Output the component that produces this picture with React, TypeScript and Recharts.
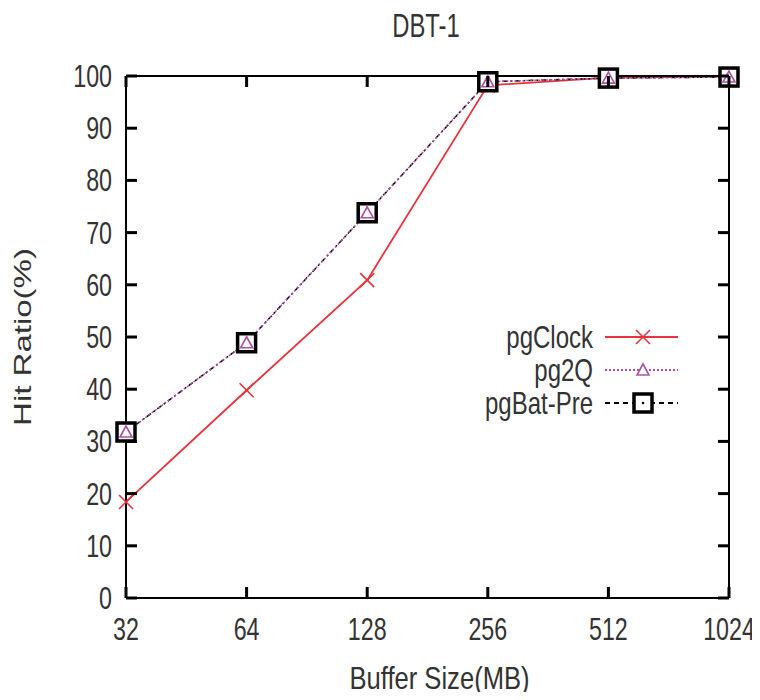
import { LineChart, Line, XAxis, YAxis, Legend } from 'recharts';

const sizes = ['32', '64', '128', '256', '512', '1024'];
const pgClock = [18.4, 39.8, 60.9, 98.2, 99.7, 99.9];
const pg2Q = [31.8, 48.9, 73.8, 98.9, 99.6, 99.8];
const pgBatPre = [31.8, 48.9, 73.8, 98.9, 99.6, 99.8];
const yTicks = [0, 10, 20, 30, 40, 50, 60, 70, 80, 90, 100];

const data = sizes.map((size, i) => ({
  size,
  pgClock: pgClock[i],
  pg2Q: pg2Q[i],
  pgBatPre: pgBatPre[i],
}));

const FONT = 'Liberation Sans, Arial, sans-serif';
const TXT = '#333';
const RED = '#e8333d';
const MAG = '#b050a4';
const SQ = 'black';
const TICK = 11;
const SX = 0.75;

const BottomTick = ({ x, y, payload }: any) => (
  <g>
    <line x1={x} y1={y} x2={x} y2={y - TICK} stroke="black" strokeWidth={3} />
    <g transform={`translate(${x},${y + 42}) scale(${SX},1)`}>
      <text textAnchor="middle" fontSize={31} fontFamily={FONT} fill={TXT}>{payload.value}</text>
    </g>
  </g>
);

const LeftTick = ({ x, y, payload }: any) => (
  <g>
    <line x1={x} y1={y} x2={x + TICK} y2={y} stroke="black" strokeWidth={3} />
    <g transform={`translate(${x - 14},${y + 11}) scale(${SX},1)`}>
      <text textAnchor="end" fontSize={31} fontFamily={FONT} fill={TXT}>{payload.value}</text>
    </g>
  </g>
);

const TopTick = ({ x, y }: any) => (
  <line x1={x} y1={y} x2={x} y2={y + TICK} stroke="black" strokeWidth={3} />
);

const RightTick = ({ x, y }: any) => (
  <line x1={x} y1={y} x2={x - TICK} y2={y} stroke="black" strokeWidth={3} />
);

const Cross = ({ cx, cy, r = 7 }: any) => (
  <g>
    <line x1={cx - r} y1={cy - r} x2={cx + r} y2={cy + r} stroke={RED} strokeWidth={1.6} />
    <line x1={cx - r} y1={cy + r} x2={cx + r} y2={cy - r} stroke={RED} strokeWidth={1.6} />
  </g>
);

const Tri = ({ cx, cy }: any) => (
  <path d={`M${cx},${cy - 6} L${cx + 6},${cy + 5} L${cx - 6},${cy + 5} Z`} fill="white" stroke={MAG} strokeWidth={1.6} />
);

const Square = ({ cx, cy }: any) => (
  <g>
    <rect x={cx - 9} y={cy - 9} width={18} height={18} fill="white" stroke={SQ} strokeWidth={3.5} />
    <circle cx={cx} cy={cy} r={1.3} fill={SQ} />
  </g>
);

const LegendBox = () => {
  const rows = [
    { name: 'pgClock', y: 27, stroke: RED, dash: undefined, mark: <Cross cx={213} cy={27} /> },
    { name: 'pg2Q', y: 60, stroke: MAG, dash: '2 2', mark: <Tri cx={213} cy={60} /> },
    { name: 'pgBat-Pre', y: 93, stroke: SQ, dash: '5 4', mark: <Square cx={213} cy={93} /> },
  ];
  return (
    <svg width={270} height={120}>
      {rows.map((r) => (
        <g key={r.name}>
          <g transform={`translate(163,${r.y + 11}) scale(${SX},1)`}>
            <text textAnchor="end" fontSize={32} fontFamily={FONT} fill={TXT}>{r.name}</text>
          </g>
          <line x1={175} y1={r.y} x2={248} y2={r.y} stroke={r.stroke} strokeWidth={1.8} strokeDasharray={r.dash} />
          {r.mark}
        </g>
      ))}
    </svg>
  );
};

const YLabel = ({ viewBox }: any) => {
  const cy = viewBox.y + viewBox.height / 2;
  return (
    <g transform={`translate(15,${cy}) scale(${SX},1) rotate(-90)`}>
      <text textAnchor="middle" dy={11} fontSize={33} fontFamily={FONT} fill={TXT}>Hit Ratio(%)</text>
    </g>
  );
};

const XLabel = ({ viewBox }: any) => {
  const cx = viewBox.x + viewBox.width / 2 + 12;
  return (
    <g transform={`translate(${cx},${viewBox.y + 91}) scale(0.8,1)`}>
      <text textAnchor="middle" fontSize={32} fontFamily={FONT} fill={TXT}>Buffer Size(MB)</text>
    </g>
  );
};

export default function App() {
  return (
    <div style={{ position: 'relative', width: 744, height: 684, background: 'white' }}>
      <style>{'.recharts-surface, .recharts-wrapper { overflow: visible !important; }'}</style>
      <div
        style={{
          position: 'absolute',
          left: 418,
          top: 17,
          transform: 'translate(-50%,-50%) scaleX(0.7)',
          fontFamily: FONT,
          fontSize: 34,
          lineHeight: 1,
          color: TXT,
          whiteSpace: 'nowrap',
        }}
      >
        DBT-1
      </div>
      <LineChart width={744} height={684} data={data} margin={{ top: 67, right: 22, bottom: 0, left: 0 }}>
        <XAxis
          dataKey="size"
          xAxisId="bottom"
          height={94}
          padding={{ left: 0, right: 0 }}
          axisLine={{ stroke: 'black', strokeWidth: 2 }}
          tickLine={false}
          tickSize={0}
          tickMargin={0}
          tick={<BottomTick />}
          interval={0}
          label={XLabel}
        />
        <XAxis
          dataKey="size"
          xAxisId="top"
          orientation="top"
          height={1}
          padding={{ left: 0, right: 0 }}
          axisLine={{ stroke: 'black', strokeWidth: 2 }}
          tickLine={false}
          tickSize={0}
          tickMargin={0}
          tick={<TopTick />}
          interval={0}
        />
        <YAxis
          yAxisId="left"
          width={118}
          domain={[0, 100]}
          ticks={yTicks}
          interval={0}
          axisLine={{ stroke: 'black', strokeWidth: 2 }}
          tickLine={false}
          tickSize={0}
          tickMargin={0}
          tick={<LeftTick />}
          label={YLabel}
        />
        <YAxis
          yAxisId="right"
          orientation="right"
          width={1}
          domain={[0, 100]}
          ticks={yTicks}
          interval={0}
          axisLine={{ stroke: 'black', strokeWidth: 2 }}
          tickLine={false}
          tickSize={0}
          tickMargin={0}
          tick={<RightTick />}
        />
        <Line
          xAxisId="bottom"
          yAxisId="left"
          dataKey="pgClock"
          stroke={RED}
          strokeWidth={1.8}
          dot={(p: any) => <Cross key={`c${p.index}`} cx={p.cx} cy={p.cy} />}
          isAnimationActive={false}
        />
        <Line
          xAxisId="top"
          yAxisId="right"
          dataKey="pgBatPre"
          stroke={SQ}
          strokeWidth={1.5}
          strokeDasharray="5 3 2 3"
          dot={(p: any) => <Square key={`s${p.index}`} cx={p.cx} cy={p.cy} />}
          isAnimationActive={false}
        />
        <Line
          xAxisId="bottom"
          yAxisId="left"
          dataKey="pg2Q"
          stroke={MAG}
          strokeWidth={1.5}
          strokeDasharray="2 2"
          dot={(p: any) => <Tri key={`t${p.index}`} cx={p.cx} cy={p.cy} />}
          isAnimationActive={false}
        />
        <Legend
          layout="horizontal"
          verticalAlign="middle"
          align="center"
          content={() => <LegendBox />}
          wrapperStyle={{ position: 'absolute', left: 422, top: 302, width: 270, height: 120 }}
        />
      </LineChart>
    </div>
  );
}
